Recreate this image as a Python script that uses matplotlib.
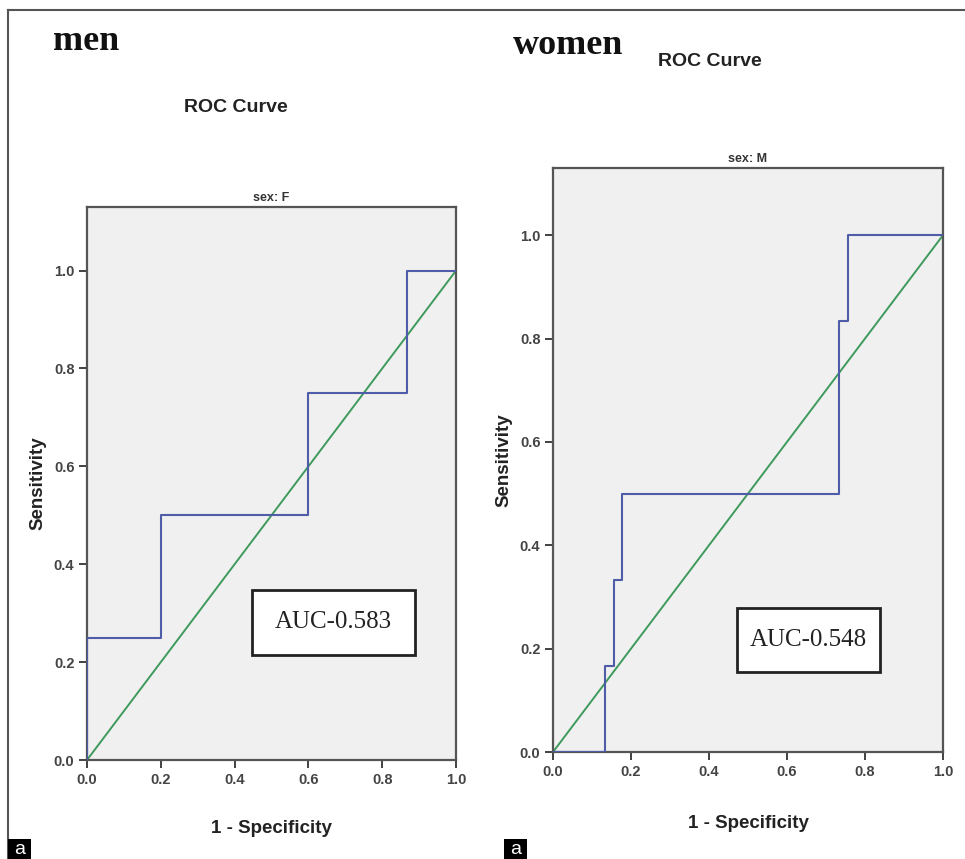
import matplotlib
matplotlib.use("Agg")
import matplotlib.pyplot as plt
from matplotlib.patches import Rectangle

# ---- data ----
men_fpr = [0.0, 0.0, 0.2, 0.2, 0.6, 0.6, 0.867, 0.867, 1.0]
men_tpr = [0.0, 0.25, 0.25, 0.5, 0.5, 0.75, 0.75, 1.0, 1.0]
women_fpr = [0.0, 0.133, 0.133, 0.156, 0.156, 0.178, 0.178, 0.733, 0.733, 0.756, 0.756, 1.0]
women_tpr = [0.0, 0.0, 0.167, 0.167, 0.333, 0.333, 0.5, 0.5, 0.833, 0.833, 1.0, 1.0]
ref_line = [0.0, 1.0]
ticks = [0.0, 0.2, 0.4, 0.6, 0.8, 1.0]
tick_labels = ["0.0", "0.2", "0.4", "0.6", "0.8", "1.0"]
panel_titles = ["men", "women"]
subtitles = ["sex: F", "sex: M"]
auc_texts = ["AUC-0.583", "AUC-0.548"]

W, H = 965, 859
fig = plt.figure(figsize=(W / 100, H / 100), dpi=100)
fig.patch.set_facecolor("white")

def fx(px):
    return px / W

def fy(py):
    return 1 - py / H

BLUE = "#4F5DA8"
GREEN = "#3E9A5C"
BG = "#F0F0F0"

# axes geometry in pixels: (left, top, right, bottom)
geoms = [(87, 207, 456, 760), (553, 168, 943, 752)]
xlabel_pads = [24, 26]
fprs = [men_fpr, women_fpr]
tprs = [men_tpr, women_tpr]
auc_boxes = [(252, 590, 415, 655), (737, 608, 880, 672)]

for i, (l, t, r, b) in enumerate(geoms):
    ax = fig.add_axes([fx(l), fy(b), fx(r - l), (b - t) / H])
    ax.set_facecolor(BG)
    ax.plot(ref_line, ref_line, color=GREEN, lw=1.4, zorder=2)
    ax.plot(fprs[i], tprs[i], color=BLUE, lw=1.5, zorder=3)
    ax.set_xlim(0, 1)
    ax.set_ylim(0, 1.13)
    ax.set_xticks(ticks)
    ax.set_xticklabels(tick_labels)
    ax.set_yticks(ticks)
    ax.set_yticklabels(tick_labels)
    ax.tick_params(direction="out", length=6, width=1.3, colors="#333333",
                   labelsize=10.5, labelcolor="#444444", pad=3)
    for lab in ax.get_xticklabels() + ax.get_yticklabels():
        lab.set_fontweight("bold")
        lab.set_family("Liberation Sans")
    for s in ax.spines.values():
        s.set_color("#555555")
        s.set_linewidth(1.6)
    ax.set_xlabel("1 - Specificity", fontsize=13.5, fontweight="bold",
                  family="Liberation Sans", color="#222222", labelpad=xlabel_pads[i])
    ax.set_ylabel("Sensitivity", fontsize=13.5, fontweight="bold",
                  family="Liberation Sans", color="#222222", labelpad=5)
    ax.set_title(subtitles[i], fontsize=9, fontweight="bold",
                 family="Liberation Sans", color="#333333", pad=4)
    # AUC box
    bl, bt, br, bb = auc_boxes[i]
    fig.patches.append(Rectangle((fx(bl), fy(bb)), fx(br - bl), (bb - bt) / H,
                                 transform=fig.transFigure, facecolor="white",
                                 edgecolor="#222222", lw=2, zorder=5))
    fig.text(fx((bl + br) / 2), fy((bt + bb) / 2), auc_texts[i],
             ha="center", va="center", fontsize=18, family="Liberation Serif",
             color="#222222", zorder=6)

# panel titles
fig.text(fx(53), fy(42), panel_titles[0], ha="left", va="center",
         fontsize=26, fontweight="bold", family="Liberation Serif", color="#111111")
fig.text(fx(513), fy(46), panel_titles[1], ha="left", va="center",
         fontsize=26, fontweight="bold", family="Liberation Serif", color="#111111")
fig.text(fx(236), fy(107), "ROC Curve", ha="center", va="center",
         fontsize=14, fontweight="bold", family="Liberation Sans", color="#222222")
fig.text(fx(710), fy(62), "ROC Curve", ha="center", va="center",
         fontsize=14, fontweight="bold", family="Liberation Sans", color="#222222")

# outer frame lines (top and left)
fig.add_artist(plt.Line2D([fx(8), 1.0], [fy(10), fy(10)], color="#555555", lw=1.5,
                          transform=fig.transFigure))
fig.add_artist(plt.Line2D([fx(8), fx(8)], [fy(10), 0.0], color="#555555", lw=1.5,
                          transform=fig.transFigure))

# "a" labels
for x0 in (8, 504):
    fig.patches.append(Rectangle((fx(x0), 0), fx(23), 20 / H, transform=fig.transFigure,
                                 facecolor="black", edgecolor="none", zorder=5))
    fig.text(fx(x0 + 11.5), fy(849), "a", ha="center", va="center", color="white",
             fontsize=14, family="Liberation Sans", zorder=6)

fig.savefig("out.png", dpi=100)
